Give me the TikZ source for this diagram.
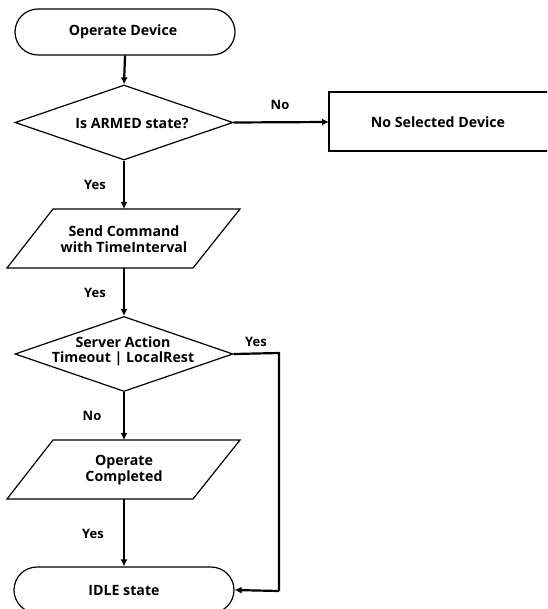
\documentclass[tikz,border=0pt]{standalone}
\usepackage{fontspec}
\setmainfont{Open Sans}
\usetikzlibrary{shapes.geometric,shapes.misc,arrows.meta}
\begin{document}
\begin{tikzpicture}[x=1pt,y=-1pt,
  shapeline/.style={draw=black,line width=1.2pt},
  terminal/.style={shapeline,rounded rectangle,minimum width=220pt,minimum height=46pt,inner sep=0pt},
  decision/.style={shapeline,diamond,minimum width=218pt,minimum height=75pt,inner sep=0pt},
  txt/.style={font=\bfseries\fontsize{14.2}{15.5}\selectfont,align=center,inner sep=0pt},
  lbl/.style={font=\bfseries\fontsize{13}{14}\selectfont,inner sep=0pt},
  flow/.style={draw=black,line width=2.2pt,-{Latex[length=7pt,width=7pt]}},
  plainflow/.style={draw=black,line width=2.2pt}]
\clip (0,0) rectangle (547,609);
\fill[white] (0,0) rectangle (547,609);

% start and end terminals
\node[terminal] (start) at (125,32) {};
\node[txt] (startT) at (123,32) {Operate Device};
\node[terminal] (idle) at (124,590) {};
\node[txt] (idleT) at (124,590) {IDLE state};

% decisions
\node[decision] (armed) at (124,122.5) {};
\node[txt] (armedT) at (132,123) {Is ARMED state?};
\node[decision] (server) at (124,354) {};
\node[txt] (serverT) at (123,351) {Server Action\\Timeout | LocalRest};

% side process box
\draw[shapeline] (329,92) rectangle (560,151);
\coordinate (nsdW) at (329,122);
\node[txt] (nsd) at (438,122) {No Selected Device};

% input/output parallelograms
\draw[shapeline] (53,209) -- (240,209) -- (193,268) -- (7,268) -- cycle;
\coordinate (sendN) at (124,209);
\coordinate (sendS) at (124,268);
\node[txt] (send) at (124,239) {Send Command\\with TimeInterval};

\draw[shapeline] (53,440) -- (240,440) -- (193,499) -- (7,499) -- cycle;
\coordinate (opN) at (124,440);
\coordinate (opS) at (124,499);
\node[txt] (op) at (124,470) {Operate\\Completed};

% connectors
\draw[flow] (start.south) -- (armed.north);
\draw[flow] (armed.east) -- (nsdW);
\draw[flow] (armed.south) -- (sendN);
\draw[flow] (sendS) -- (server.north);
\draw[flow] (server.south) -- (opN);
\draw[flow] (opS) -- (idle.north);
\coordinate (bendA) at (279,353);
\coordinate (bendB) at (279,591);
\draw[plainflow] (server.east) -- (bendA) -- (bendB);
\draw[flow] (bendB) -- (idle.east);

% connector labels
\node[lbl] (l1) at (280,105) {No};
\node[lbl] (l2) at (95,185) {Yes};
\node[lbl] (l3) at (95,293) {Yes};
\node[lbl] (l4) at (256,342) {Yes};
\node[lbl] (l5) at (92,416) {No};
\node[lbl] (l6) at (93,534) {Yes};
\end{tikzpicture}
\end{document}
